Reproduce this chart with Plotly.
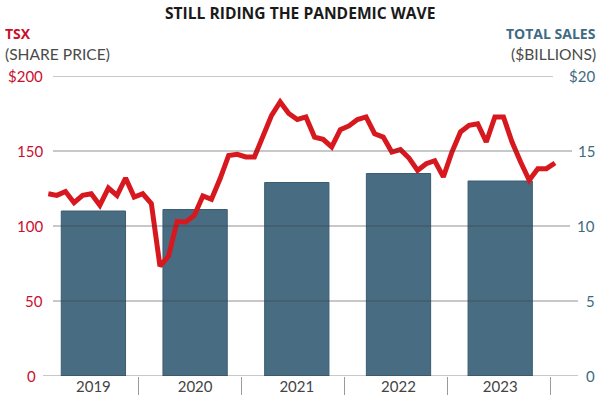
import plotly.graph_objects as go

# ---------------- data ----------------
years = [2019, 2020, 2021, 2022, 2023]
year_labels = ["2019", "2020", "2021", "2022", "2023"]
sales_billions = [11.0, 11.1, 12.9, 13.5, 13.0]

# monthly TSX share price, Jan 2019 .. Dec 2023 (month index 0..59)
months = list(range(60))
tsx_price = [
    121.5, 120.4, 123.0, 115.5, 120.4, 121.5, 113.8, 125.3, 120.4, 132.0, 119.3, 121.5,
    115.0, 73.3, 80.0, 103.0, 102.7, 107.0, 120.0, 117.8, 131.5, 147.0, 147.8, 146.0,
    146.0, 160.4, 173.8, 182.7, 175.0, 171.0, 172.7, 159.3, 157.8, 152.7, 164.2, 166.7,
    171.0, 172.7, 161.5, 159.3, 149.3, 150.9, 145.3, 137.0, 141.5, 143.5, 132.7, 149.3,
    162.7, 167.1, 168.2, 156.0, 172.7, 172.7, 156.0, 142.7, 130.5, 138.2, 138.2, 142.0,
]
# year boundaries on the month axis (divider ticks)
year_breaks = [10.5, 22.5, 34.5, 46.5, 58.5]

left_ticks = [0, 50, 100, 150, 200]
left_ticktext = ["0", "50", "100", "150", "$200"]
right_ticks = [0, 5, 10, 15, 20]
right_ticktext = ["0", "5", "10", "15", "$20"]

# ---------------- style ----------------
W, H = 600, 400
ML, MR, MT, MB = 43, 22, 76, 24
PW = W - ML - MR
PH = H - MT - MB

RED = "#d7191f"
RED_TXT = "#c8102e"
BLUE = "#486d83"
BLUE_TXT = "#3f6b82"
FONT = "Lato, 'Open Sans', sans-serif"
BOLD_FONT = "'Open Sans', Lato, sans-serif"


def px_x(x):
    return (x - ML) / PW


def px_y(y):
    return (H - MB - y) / PH


fig = go.Figure()

fig.add_trace(go.Bar(
    x=years, y=sales_billions, xaxis="x", yaxis="y",
    width=0.632, marker=dict(color=BLUE, line=dict(color="#3a5d72", width=1)),
    hoverinfo="skip", showlegend=False,
))

fig.add_trace(go.Scatter(
    x=months, y=tsx_price, xaxis="x2", yaxis="y2", mode="lines",
    line=dict(color=RED, width=5, shape="linear"),
    hoverinfo="skip", showlegend=False,
))

shapes = []
# gridlines (start px, end px) per left tick
grid_starts = [43, 53, 53, 53, 53]
grid_ends = [578, 578, 570, 572, 553]
for v, x0, x1 in zip(left_ticks, grid_starts, grid_ends):
    shapes.append(dict(
        type="line", xref="paper", yref="y2", x0=px_x(x0), x1=px_x(x1), y0=v, y1=v,
        line=dict(color="rgba(60,60,60,0.38)", width=1.5), layer="above",
    ))

annotations = []
left_label_right = [38, 45, 45, 45, 45]
for v, t, xr in zip(left_ticks, left_ticktext, left_label_right):
    annotations.append(dict(
        x=px_x(xr), y=v, xref="paper", yref="y2", text=t, showarrow=False,
        xanchor="right", yanchor="middle", font=dict(family=FONT, size=15, color=RED_TXT),
    ))
for v, t in zip(right_ticks, right_ticktext):
    annotations.append(dict(
        x=px_x(597), y=v, xref="paper", yref="y", text=t, showarrow=False,
        xanchor="right", yanchor="middle", font=dict(family=FONT, size=15, color=BLUE_TXT),
    ))

annotations += [
    dict(x=px_x(300), y=px_y(13), xref="paper", yref="paper",
         text="<b>STILL RIDING THE PANDEMIC WAVE</b>", showarrow=False,
         xanchor="center", yanchor="middle", font=dict(family=BOLD_FONT, size=15.6, color="#1a1a1a")),
    dict(x=px_x(4), y=px_y(44), xref="paper", yref="paper", text="<b>TSX</b>",
         showarrow=False, xanchor="left", yanchor="bottom", borderpad=0,
         font=dict(family=BOLD_FONT, size=14, color=RED_TXT)),
    dict(x=px_x(4), y=px_y(44), xref="paper", yref="paper", text="(SHARE PRICE)",
         showarrow=False, xanchor="left", yanchor="top", borderpad=0,
         font=dict(family=FONT, size=15.6, color="#4a4a4a")),
    dict(x=px_x(597), y=px_y(44), xref="paper", yref="paper", text="<b>TOTAL SALES</b>",
         showarrow=False, xanchor="right", yanchor="bottom", borderpad=0,
         font=dict(family=BOLD_FONT, size=14, color=BLUE_TXT)),
    dict(x=px_x(597), y=px_y(44), xref="paper", yref="paper", text="($BILLIONS)",
         showarrow=False, xanchor="right", yanchor="top", borderpad=0,
         font=dict(family=FONT, size=15.6, color="#4a4a4a")),
]

fig.update_layout(
    template="none",
    width=W, height=H, autosize=False,
    margin=dict(l=ML, r=MR, t=MT, b=MB, pad=0),
    paper_bgcolor="white", plot_bgcolor="white",
    showlegend=False,
    shapes=shapes, annotations=annotations,
    xaxis=dict(
        range=[2018.5044, 2023.765], tickmode="array", tickvals=years, ticktext=year_labels,
        showgrid=False, zeroline=False, showline=False, ticks="", automargin=False,
        tickfont=dict(family=FONT, size=15, color="#444444"), fixedrange=True,
    ),
    xaxis2=dict(
        overlaying="x", side="bottom", range=[-0.617, 61.68],
        tickmode="array", tickvals=year_breaks, showticklabels=False,
        ticks="outside", ticklen=18, tickwidth=1, tickcolor="#9a9a9a", automargin=False,
        showgrid=False, zeroline=False, showline=False, fixedrange=True,
    ),
    yaxis=dict(range=[0, 20], showticklabels=False, showgrid=False, zeroline=False,
               showline=False, ticks="", fixedrange=True, automargin=False),
    yaxis2=dict(overlaying="y", range=[0, 200], showticklabels=False, showgrid=False,
                zeroline=False, showline=False, ticks="", fixedrange=True, automargin=False),
)

fig.write_html(
    "out.html",
    config={"displayModeBar": False},
    post_script="document.body.style.margin='0';document.body.style.padding='0';",
)
